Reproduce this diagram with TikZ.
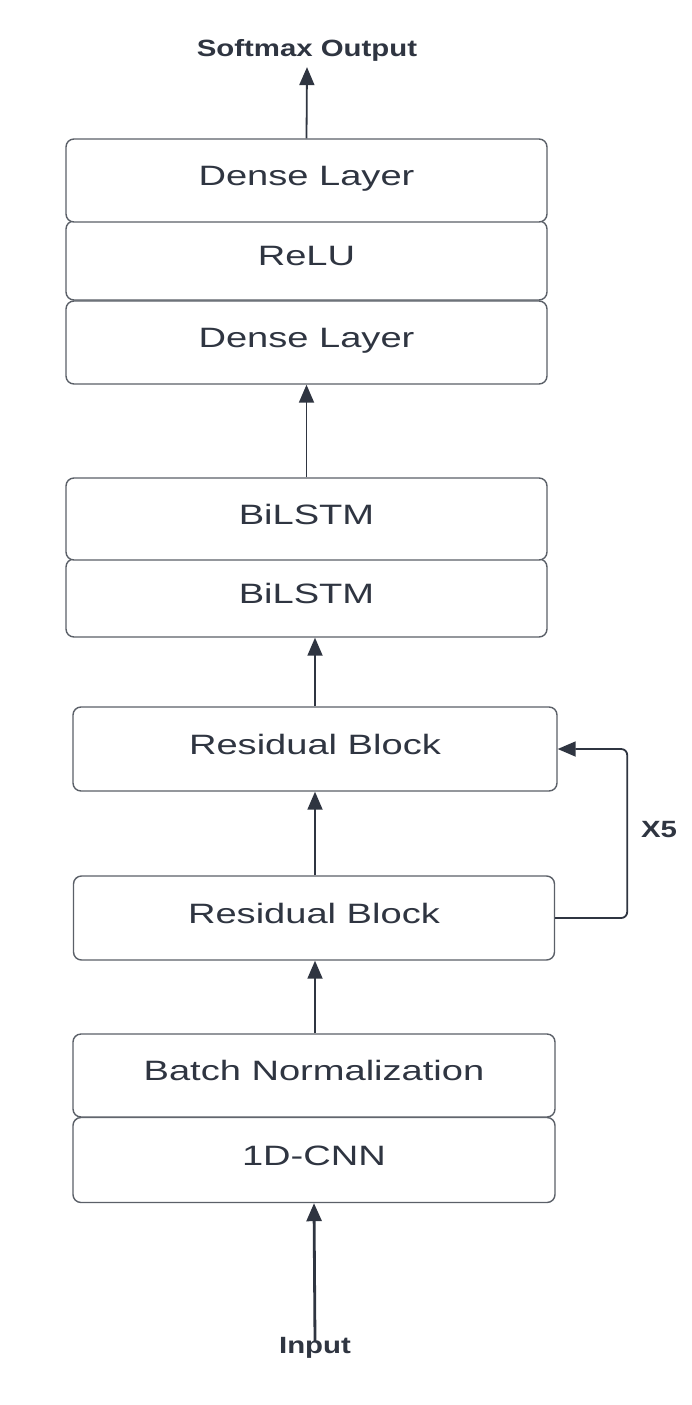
\documentclass[tikz,border=0pt]{standalone}
\usepackage{fontspec}
\newfontfamily\layerfont[FakeStretch=1.36]{Liberation Sans}
\newfontfamily\tagfont[FakeStretch=1.25]{Liberation Sans Bold}
\usepackage{tikz}
\usetikzlibrary{arrows.meta,positioning}
\definecolor{boxline}{HTML}{5B6068}
\definecolor{inkgray}{HTML}{2F3541}

\begin{document}
\begin{tikzpicture}[x=1pt,y=-1pt,
		layer/.style={draw=boxline, line width=1.4pt, fill=white, rounded corners=8pt, minimum width=481pt, inner sep=0pt, text height=20pt, text depth=10pt, text=inkgray, font=\layerfont\fontsize{28}{30}\selectfont},
		tag/.style={text=inkgray, inner sep=0pt, font=\tagfont\fontsize{23.5}{26}\selectfont},
		arr/.style={draw=inkgray, line width=1.8pt, -{Triangle[length=18pt,width=15pt]}}]
		\useasboundingbox (0,0) rectangle (692,1405);
		% dense head
		\node[layer, minimum height=79pt] (relu) at (306.5,260.5) {ReLU};
		\node[layer, minimum height=83pt] (dense2) at (306.5,180.5) {Dense Layer};
		\node[layer, minimum height=83pt] (dense1) at (306.5,342.5) {Dense Layer};
		% recurrent part
		\node[layer, minimum height=78pt] (bilstm1) at (306.5,598) {BiLSTM};
		\node[layer, minimum height=82pt] (bilstm2) at (306.5,519) {BiLSTM};
		% residual part
		\node[layer, minimum width=484pt, minimum height=84pt] (res2) at (315,749) {Residual Block};
		\node[layer, minimum height=84pt] (res1) at (314,918) {Residual Block};
		% input stage
		\node[layer, minimum width=482pt, minimum height=85pt] (cnn) at (314,1160) {1D-CNN};
		\node[layer, minimum width=482pt, minimum height=83pt] (bn) at (314,1075.5) {Batch Normalization};
		% labels
		\node[tag] (softmax) at (307,50) {Softmax Output};
		\node[tag] (input) at (315,1348) {Input};
		\node[tag] (times) at (659,830) {X5};
		% arrows
		\draw[arr] (dense2.north) -- ([yshift=-6pt]softmax.south);
		\draw[arr] (bilstm2.north) -- (dense1.south);
		\draw[arr] (res2.north) -- (res2.north |- bilstm1.south);
		\draw[arr] (res1.north -| res2.north) -- (res2.south);
		\draw[arr] (bn.north -| res2.north) -- (res1.south -| res2.north);
		\draw[arr, line width=2.8pt] ([yshift=-4pt]input.north) -- (cnn.south);
		\draw[arr, rounded corners=6pt] (res1.east) -- ++(72,0) |- (res2.east);
	\end{tikzpicture}
\end{document}
